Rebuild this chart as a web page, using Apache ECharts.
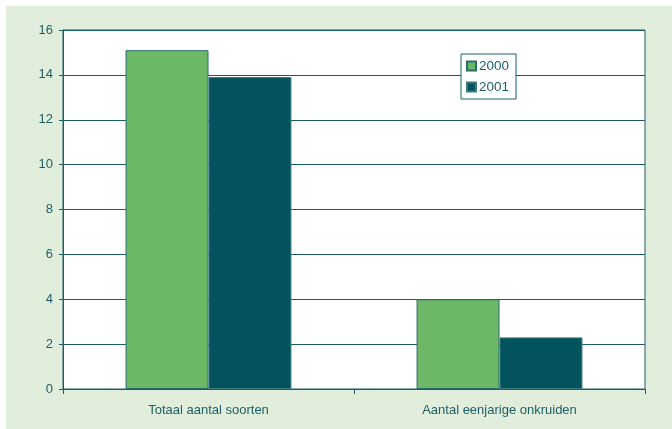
<!DOCTYPE html>
<html>
<head>
<meta charset="utf-8">
<script src="https://cdn.jsdelivr.net/npm/echarts@6/dist/echarts.min.js"></script>
<style>
  html, body { margin: 0; padding: 0; background: #fff; }
  #bg { position: absolute; left: 6px; top: 6px; width: 666px; height: 423px; background: #e1eedb; }
  #chart { position: absolute; left: 0; top: 0; width: 672px; height: 429px; }
</style>
</head>
<body>
<div id="bg"></div>
<div id="chart"></div>
<script>
  // categorieën en waarden
  var categories = ['Totaal aantal soorten', 'Aantal eenjarige onkruiden'];
  var series2000 = [15.1, 4.0];
  var series2001 = [13.9, 2.3];

  var teal = '#1d5e66';
  var myChart = echarts.init(document.getElementById('chart'));

  var option = {
    animation: false,
    textStyle: { fontFamily: 'Liberation Sans, Arial, sans-serif' },
    grid: {
      left: 63, right: 27, top: 30, bottom: 40,
      show: true, backgroundColor: '#fff', borderColor: teal, borderWidth: 1
    },
    legend: {
      orient: 'vertical',
      left: 461, top: 54,
      padding: [5, 7, 5, 5],
      icon: 'rect',
      itemWidth: 9, itemHeight: 9, itemGap: 7,
      backgroundColor: '#fff',
      borderColor: teal, borderWidth: 1,
      textStyle: { color: teal, fontSize: 13.5, padding: [0, 0, 0, -2] },
      data: ['2000', '2001']
    },
    xAxis: {
      type: 'category',
      data: categories,
      axisLine: { lineStyle: { color: teal } },
      axisTick: { show: true, length: 5, lineStyle: { color: teal } },
      axisLabel: { color: teal, fontSize: 13, margin: 15 }
    },
    yAxis: {
      type: 'value',
      min: 0, max: 16, interval: 2,
      axisLine: { show: true, lineStyle: { color: teal } },
      axisTick: { show: true, length: 4, lineStyle: { color: teal } },
      axisLabel: { color: teal, fontSize: 13, margin: 10 },
      splitLine: { lineStyle: { color: teal, width: 1 } }
    },
    series: [
      {
        name: '2000', type: 'bar', data: series2000,
        barGap: '0%', barCategoryGap: '43%',
        itemStyle: { color: '#6db866', borderColor: '#2b6a6e', borderWidth: 1 }
      },
      {
        name: '2001', type: 'bar', data: series2001,
        itemStyle: { color: '#02535e', borderColor: '#3a7a80', borderWidth: 1 }
      }
    ]
  };

  myChart.setOption(option);
</script>
</body>
</html>
